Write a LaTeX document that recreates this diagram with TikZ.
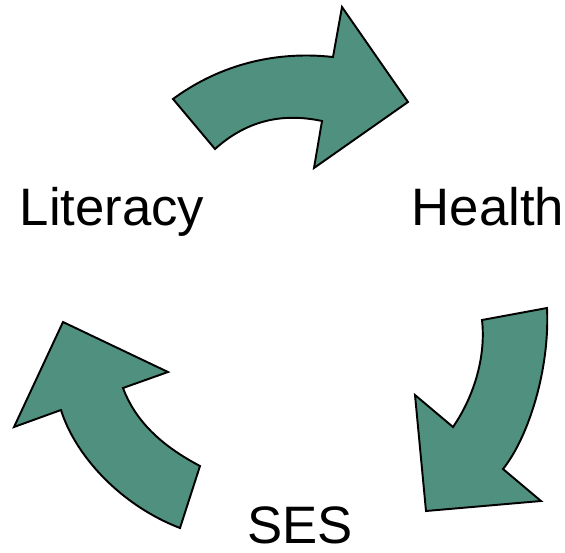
\documentclass[tikz,border=0pt]{standalone}
\usepackage{fontspec}
\setmainfont{Liberation Sans}
\definecolor{cyclegreen}{RGB}{80,144,126}
\begin{document}
\begin{tikzpicture}[x=0.02cm,y=-0.02cm,
  cyclearrow/.style={fill=cyclegreen,draw=black,line width=1.1pt,line join=miter},
  label/.style={anchor=base,inner sep=0pt,font=\fontsize{30}{36}\selectfont}]

\useasboundingbox (0,0) rectangle (565,552);

% Literacy -> Health
\filldraw[cyclearrow] (173,99) .. controls (215,68) and (270,50) .. (333,57)
  -- (342,7) -- (408,102) -- (314,168) -- (322,121)
  .. controls (280,112) and (245,122) .. (215,149) -- cycle;

% Health -> SES
\filldraw[cyclearrow] (547,308) -- (482,320)
  .. controls (486,355) and (475,395) .. (453,427)
  -- (415,395) -- (426,511) -- (541,501) -- (503,469)
  .. controls (528,438) and (550,370) .. cycle;

% SES -> Literacy
\filldraw[cyclearrow] (200,466)
  .. controls (160,445) and (135,420) .. (123,388)
  -- (168,372) -- (63,322) -- (14,427) -- (61,410)
  .. controls (75,455) and (120,505) .. (180,528) -- cycle;

\node[label] (lit) at (112,225) {Literacy};
\node[label] (hea) at (488,225) {Health};
\node[label] (ses) at (300,543) {SES};

\end{tikzpicture}
\end{document}
